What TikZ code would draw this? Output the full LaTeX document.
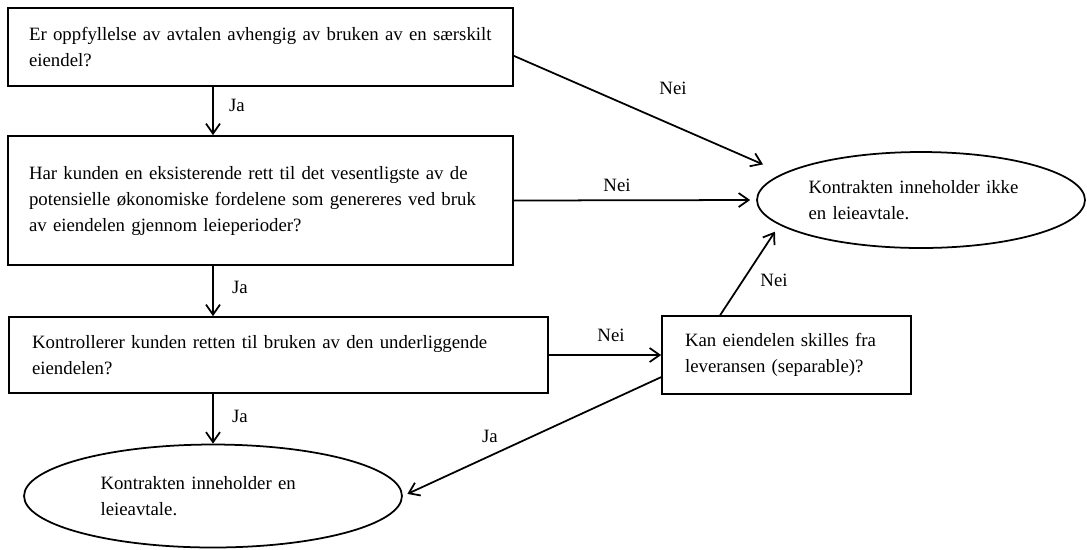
\documentclass[tikz,border=0pt]{standalone}
\usepackage{fontspec}
\setmainfont{Liberation Serif}
\usetikzlibrary{shapes.geometric,arrows.meta}

\begin{document}
\begin{tikzpicture}[x=0.02cm,y=-0.02cm,
		every node/.style={font=\fontsize{10.7}{14.8}\selectfont},
		qbox/.style={draw=black,line width=1pt,rectangle,inner xsep=0.46cm,inner ysep=0pt,align=left},
		answer/.style={draw=black,line width=1pt,ellipse,inner sep=0pt,align=left,text width=4.5cm},
		arr/.style={-{Straight Barb[length=2mm,width=2.8mm]},line width=1pt}]
		\useasboundingbox (0,0) rectangle (1087,549);
		% questions
		\node [qbox,inner xsep=0.42cm,text width=9.26cm,minimum height=1.56cm] (box1) at (260.5,47) {Er oppfyllelse av avtalen avhengig av bruken av en særskilt\\eiendel?};
		\node [qbox,inner xsep=0.42cm,text width=9.26cm,minimum height=2.58cm] (box2) at (260.5,200.5) {Har kunden en eksisterende rett til det vesentligste av de\\potensielle økonomiske fordelene som genereres ved bruk\\av eiendelen gjennom leieperioder?};
		\node [qbox,text width=9.86cm,minimum height=1.52cm] (box3) at (278.5,355) {Kontrollerer kunden retten til bruken av den underliggende\\eiendelen?};
		\node [qbox,text width=4.06cm,minimum height=1.56cm] (box4) at (786.5,355) {Kan eiendelen skilles fra\\leveransen (separable)?};
		% outcomes
		\node [answer,minimum width=6.56cm,minimum height=1.92cm] (ell1) at (921,200) {Kontrakten inneholder ikke\\en leieavtale.};
		\node [answer,minimum width=7.56cm,minimum height=2.06cm] (ell2) at (213,496) {Kontrakten inneholder en\\leieavtale.};
		% connectors
		\draw [arr] (box1.south -| ell2.north) -- (box2.north -| ell2.north);
		\draw [arr] (box2.south -| ell2.north) -- (box3.north -| ell2.north);
		\draw [arr] (box3.south -| ell2.north) -- (ell2.north);
		\draw [arr,shorten >=0.44cm] (box1.-2) -- (ell1.169);
		\draw [arr,shorten >=0.12cm] (box2.east) -- (ell1.west);
		\draw [arr] (box3.east) -- (box4.west);
		\draw [arr,shorten >=0.16cm] (box4.149) -- (ell1.190);
		\draw [arr,shorten >=0.1cm] (box4.190) -- (ell2.east);
		% labels
		\node (ja1) at (237,105) {Ja};
		\node (ja2) at (240,287) {Ja};
		\node (ja3) at (240,416) {Ja};
		\node (ja4) at (490,436) {Ja};
		\node (nei1) at (673,88) {Nei};
		\node (nei2) at (617,185) {Nei};
		\node (nei3) at (611,335) {Nei};
		\node (nei4) at (774,280) {Nei};
	\end{tikzpicture}
\end{document}
